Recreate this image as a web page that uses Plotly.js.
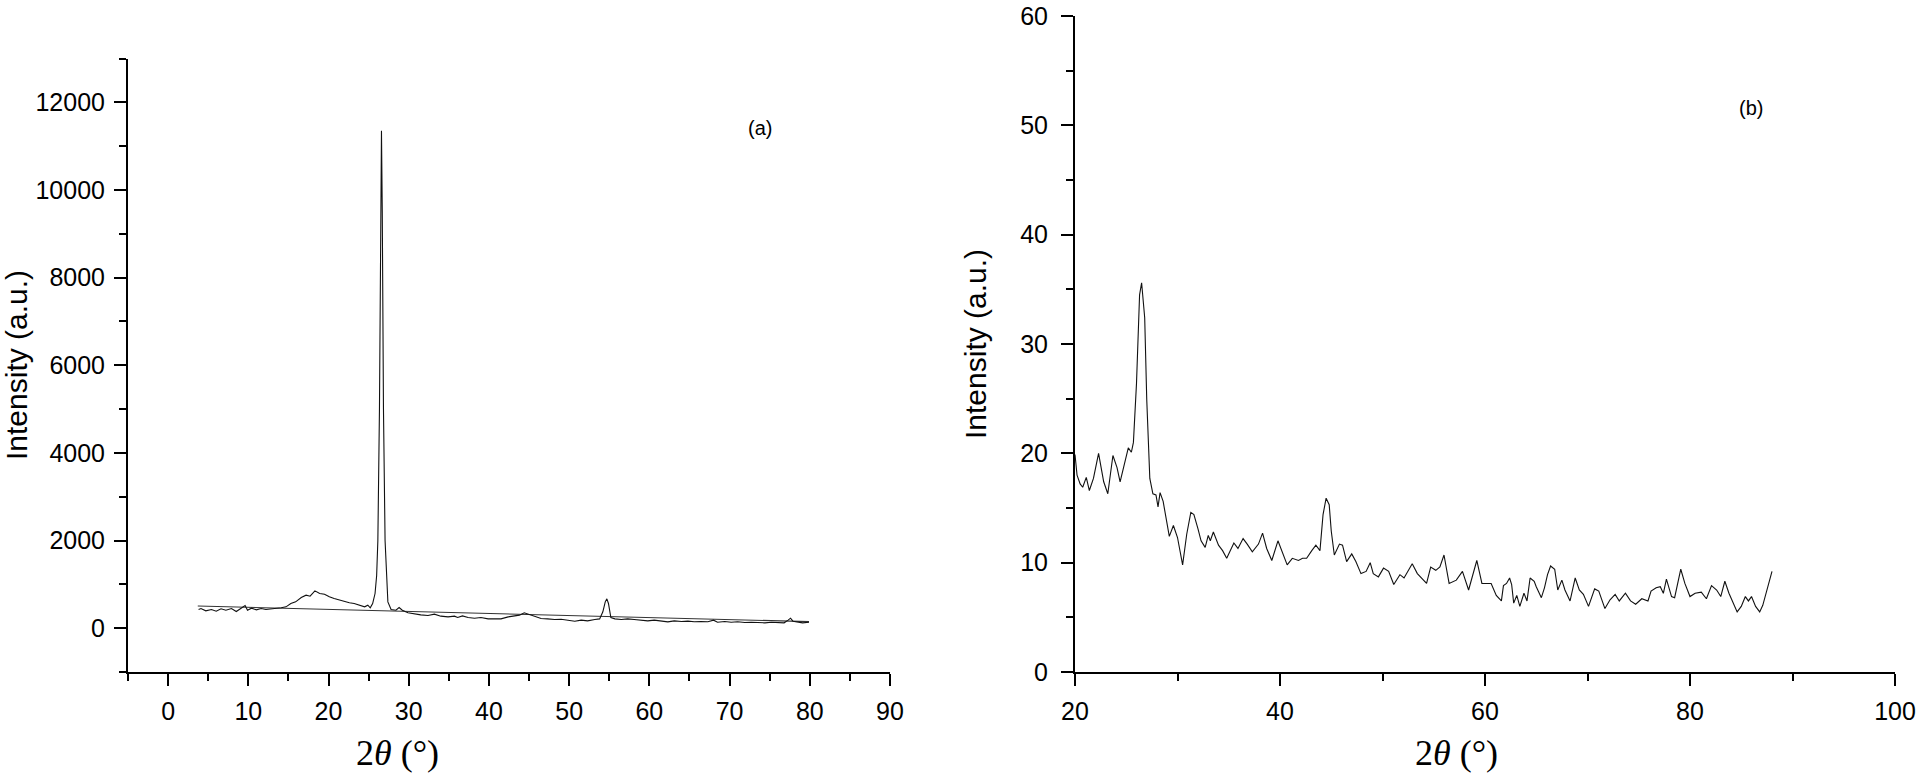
<!DOCTYPE html>
<html>
<head>
<meta charset="utf-8">
<script src="https://cdn.plot.ly/plotly-3.0.1.min.js"></script>
<style>
html,body{margin:0;padding:0;background:#ffffff;}
#chart{width:1920px;height:778px;}
</style>
</head>
<body>
<div id="chart"></div>
<script>
// ---- Panel (a): XRD pattern, 2θ (°) vs intensity ----
const thetaA = [3.8,4.1,4.7,5.4,6.0,6.6,7.2,7.9,8.5,9.1,9.6,9.9,10.4,11.0,11.6,12.2,12.8,13.5,14.1,14.7,
  15.3,15.9,16.6,17.2,17.7,18.3,18.9,19.5,20.1,20.7,21.4,22.0,22.6,23.2,23.9,24.5,24.9,25.2,25.5,25.8,
  26.0,26.15,26.35,26.5,26.6,26.7,26.85,27.05,27.2,27.4,27.8,28.4,28.8,29.2,29.9,30.7,31.5,32.4,33.2,34.0,
  34.9,35.7,36.1,36.7,37.4,38.2,39.0,39.9,40.7,41.5,42.4,43.2,43.8,44.4,45.1,45.7,46.5,47.3,48.2,49.0,
  49.8,50.7,51.5,52.3,53.2,53.8,54.2,54.5,54.7,54.9,55.2,55.7,56.5,57.3,58.1,59.0,59.8,60.6,61.5,62.3,
  63.1,64.0,64.8,65.6,66.4,67.3,68.0,68.5,69.4,70.2,71.0,71.9,72.7,73.5,74.4,75.2,76.0,76.8,77.3,77.6,
  77.9,78.5,79.1,79.9];
const intensityA = [426,449,396,426,388,442,411,449,380,449,517,411,457,418,449,426,434,457,465,487,
  563,601,700,753,730,852,791,776,715,677,639,601,579,563,517,487,525,465,563,791,
  1200,2000,5000,9500,11350,9500,5000,2000,1200,600,426,411,472,411,350,320,304,289,320,274,
  258,274,243,281,243,228,243,212,220,212,258,289,297,350,304,258,220,212,198,205,
  183,160,183,167,198,212,373,601,670,563,243,212,198,212,198,183,167,183,160,145,
  167,152,160,145,152,145,183,137,152,137,145,129,137,129,122,137,129,122,183,228,
  160,137,122,137];
// straight background line drawn under the pattern
const baselineTheta = [3.7, 79.9];
const baselineIntensity = [505, 150];

// ---- Panel (b): XRD pattern, 2θ (°) vs intensity ----
const thetaB = [20.0,20.2,20.5,20.75,21.1,21.4,21.8,22.1,22.3,22.8,23.2,23.7,24.1,24.4,24.9,25.2,25.5,25.7,26.0,26.3,
  26.5,26.8,27.0,27.3,27.6,27.9,28.1,28.3,28.6,28.9,29.2,29.6,30.0,30.5,30.9,31.3,31.6,32.0,32.3,32.7,
  33.0,33.2,33.5,34.0,34.4,34.8,35.2,35.5,35.9,36.4,36.8,37.3,37.9,38.3,38.7,39.2,39.8,40.3,40.7,41.2,
  41.8,42.2,42.6,43.1,43.5,43.9,44.2,44.5,44.8,45.0,45.3,45.8,46.1,46.5,47.0,47.4,47.9,48.4,48.8,49.1,
  49.6,50.1,50.6,51.1,51.7,52.1,52.9,53.4,54.3,54.7,55.2,55.6,56.0,56.5,57.2,57.8,58.4,59.2,59.7,60.6,
  61.1,61.6,61.8,62.1,62.4,62.6,62.8,63.1,63.4,63.8,64.1,64.4,64.8,65.0,65.5,65.8,66.1,66.4,66.8,67.1,
  67.5,67.8,68.3,68.8,69.2,69.6,70.1,70.7,71.1,71.7,72.2,72.7,73.1,73.7,74.2,74.7,75.3,75.9,76.2,76.7,
  77.1,77.4,77.7,78.2,78.5,79.1,79.5,80.0,80.5,81.1,81.6,82.1,82.6,83.0,83.4,83.8,84.3,84.6,85.0,85.4,
  85.7,86.0,86.4,86.8,87.1,87.5,88.0];
const intensityB = [19.9,18.0,17.2,16.9,17.8,16.6,17.7,19.2,20.0,17.4,16.3,19.8,18.7,17.4,19.5,20.5,20.1,21.0,26.4,34.5,
  35.6,32.4,24.9,17.7,16.3,16.2,15.1,16.4,15.6,14.1,12.4,13.4,12.3,9.8,12.6,14.6,14.4,13.1,12.0,11.4,
  12.5,12.0,12.8,11.6,11.1,10.4,11.3,11.8,11.3,12.2,11.7,11.0,11.7,12.7,11.3,10.2,12.0,10.8,9.8,10.4,
  10.2,10.4,10.4,11.1,11.6,11.1,14.4,15.9,15.3,12.9,10.7,11.7,11.6,10.1,10.8,10.1,9.0,9.2,10.0,9.0,
  8.7,9.5,9.2,8.0,8.9,8.6,9.9,9.0,8.1,9.6,9.3,9.6,10.7,8.1,8.4,9.2,7.5,10.2,8.1,8.1,
  7.0,6.5,7.9,8.1,8.6,8.0,6.3,7.0,6.0,7.2,6.5,8.6,8.3,7.8,6.8,7.7,8.9,9.7,9.4,7.5,
  8.4,7.5,6.5,8.6,7.5,7.1,6.0,7.6,7.4,5.8,6.6,7.1,6.5,7.2,6.5,6.2,6.7,6.5,7.4,7.7,
  7.8,7.2,8.5,6.9,6.8,9.4,8.1,6.9,7.2,7.3,6.7,7.9,7.5,6.9,8.3,7.2,6.2,5.5,6.0,6.9,
  6.5,6.9,6.0,5.5,6.1,7.4,9.2];

// tick labels
const tickValsAx = [0,10,20,30,40,50,60,70,80,90];
const tickValsAy = [0,2000,4000,6000,8000,10000,12000];
const tickValsBx = [20,40,60,80,100];
const tickValsBy = [0,10,20,30,40,50,60];

const tickFont = {family: 'Arial, "Liberation Sans", sans-serif', size: 25, color: '#000'};
const titleFont = {family: 'Arial, "Liberation Sans", sans-serif', size: 30, color: '#000'};
const serifFont = {family: '"Times New Roman", "Liberation Serif", serif', size: 36, color: '#000'};
const labelFont = {family: 'Arial, "Liberation Sans", sans-serif', size: 20, color: '#000'};

const W = 1920, H = 778;
function minorTicks(tick0, dtick) {
  return {tickmode: 'linear', tick0: tick0, dtick: dtick, ticks: 'outside', ticklen: 7,
          tickwidth: 2, tickcolor: '#000', showgrid: false};
}
function axisBase(extra) {
  return Object.assign({
    showgrid: false, zeroline: false, showline: true, linecolor: '#000', linewidth: 2,
    ticks: 'outside', ticklen: 12, tickwidth: 2, tickcolor: '#000',
    tickfont: tickFont, mirror: false, fixedrange: true,
    tickmode: 'array', ticklabeloverflow: 'allow', ticklabelstandoff: 4
  }, extra);
}

const traces = [
  {x: baselineTheta, y: baselineIntensity, xaxis: 'x', yaxis: 'y', mode: 'lines',
   line: {color: '#333', width: 1.1}, hoverinfo: 'skip'},
  {x: thetaA, y: intensityA, xaxis: 'x', yaxis: 'y', mode: 'lines',
   line: {color: '#111', width: 1.1}},
  {x: thetaB, y: intensityB, xaxis: 'x2', yaxis: 'y2', mode: 'lines',
   line: {color: '#111', width: 1.1}}
];

const layout = {
  width: W, height: H,
  margin: {l: 0, r: 0, t: 0, b: 0},
  paper_bgcolor: '#fff', plot_bgcolor: '#fff',
  showlegend: false,
  xaxis: axisBase({domain: [128/W, 890/W], range: [-5, 90], tickvals: tickValsAx, ticktext: tickValsAx.map(String),
    anchor: 'y', minor: minorTicks(-5, 10)}),
  yaxis: axisBase({domain: [1 - 672/H, 1 - 58.5/H], range: [-1000, 13000], tickvals: tickValsAy, ticktext: tickValsAy.map(String),
    anchor: 'x', minor: minorTicks(-1000, 2000)}),
  xaxis2: axisBase({domain: [1075/W, 1895/W], range: [20, 100], tickvals: tickValsBx, ticktext: tickValsBx.map(String),
    anchor: 'y2', minor: minorTicks(30, 20)}),
  yaxis2: axisBase({domain: [1 - 672/H, 1 - 16/H], range: [0, 60], tickvals: tickValsBy, ticktext: tickValsBy.map(String),
    anchor: 'x2', minor: minorTicks(5, 10), ticklabelstandoff: 8}),
  annotations: [
    {text: 'Intensity (a.u.)', xref: 'paper', yref: 'paper', x: 17/W, y: 1 - 365/H, textangle: -90,
     xanchor: 'center', yanchor: 'middle', showarrow: false, font: titleFont},
    {text: 'Intensity (a.u.)', xref: 'paper', yref: 'paper', x: 976/W, y: 1 - 344/H, textangle: -90,
     xanchor: 'center', yanchor: 'middle', showarrow: false, font: titleFont},
    {text: '2<i>θ</i> (°)', xref: 'paper', yref: 'paper', x: 397/W, y: 1 - 753/H,
     xanchor: 'center', yanchor: 'middle', showarrow: false, font: serifFont},
    {text: '2<i>θ</i> (°)', xref: 'paper', yref: 'paper', x: 1456/W, y: 1 - 753/H,
     xanchor: 'center', yanchor: 'middle', showarrow: false, font: serifFont},
    {text: '(a)', xref: 'paper', yref: 'paper', x: 760/W, y: 1 - 128/H,
     xanchor: 'center', yanchor: 'middle', showarrow: false, font: labelFont},
    {text: '(b)', xref: 'paper', yref: 'paper', x: 1751/W, y: 1 - 108/H,
     xanchor: 'center', yanchor: 'middle', showarrow: false, font: labelFont}
  ]
};

Plotly.newPlot('chart', traces, layout, {displayModeBar: false, staticPlot: true});
</script>
</body>
</html>
